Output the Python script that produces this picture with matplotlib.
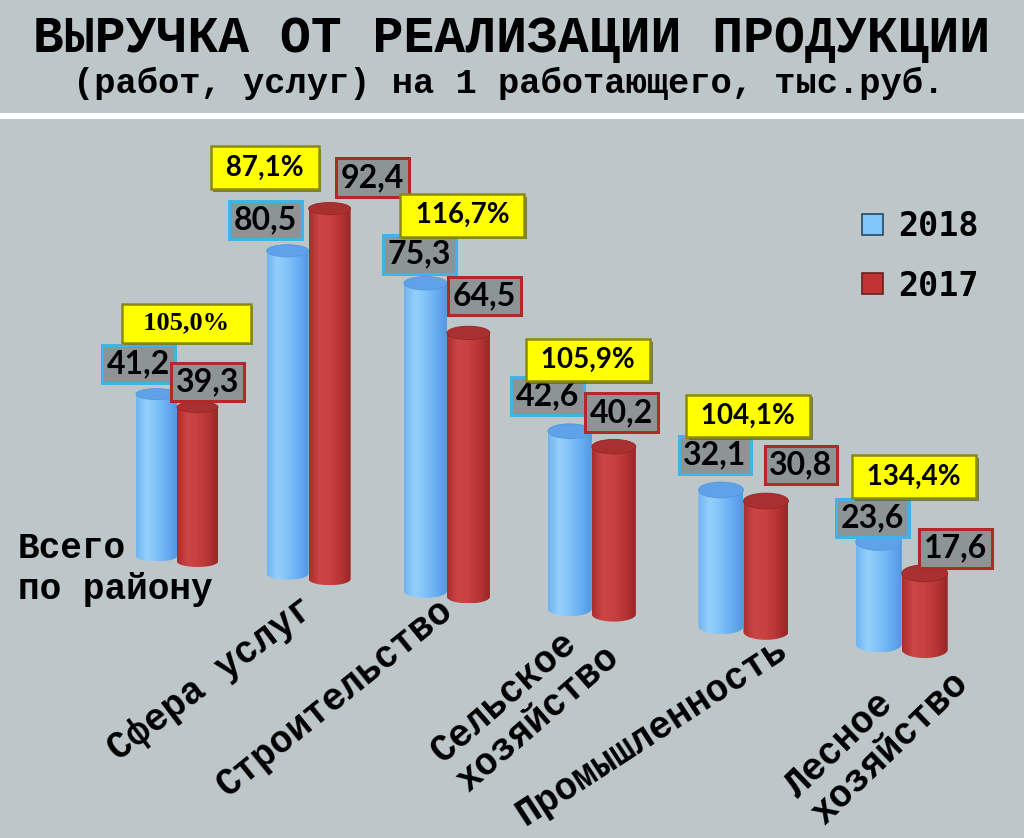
import numpy as np
import matplotlib.pyplot as plt
import matplotlib.patheffects as pe
from matplotlib.patches import Ellipse, PathPatch, Patch, Rectangle
from matplotlib.path import Path
from matplotlib.colors import LinearSegmentedColormap

# data
categories = ["Всего\nпо району", "Сфера услуг", "Строительство",
              "Сельское\nхозяйство", "Промышленность", "Лесное\nхозяйство"]
vals_2018 = [41.2, 80.5, 75.3, 42.6, 32.1, 23.6]
vals_2017 = [39.3, 92.4, 64.5, 40.2, 30.8, 17.6]
growth = ["105,0%", "87,1%", "116,7%", "105,9%", "104,1%", "134,4%"]
years = ["2018", "2017"]

BG = "#bdc7ca"
BLUE = ["#70b4f0", "#94d0fc", "#80c2f8", "#68aef2", "#5398e0"]
RED = ["#aa2e2e", "#cc4646", "#c84040", "#b83535", "#982626"]
BLUE_TOP = "#60a2e8"
RED_TOP = "#a83030"

SC = 4.1   # pixels per value unit on the y axis
n = len(categories)
i = np.arange(n)
# perspective layout of the pairs
xc = 177 + 128.3 * i + 3.33 * i ** 2
base = -17.6 * i / SC
persp = (3.93 + 0.08 * i) / SC
bw = 41 + 1.0 * i
eh = (11 + 1.2 * i) / SC

# label offsets (pixels) from the top of each cylinder
off_2018 = [(-18, 30), (-22, 31), (-6, 29), (-22, 35), (-6, 35), (-6, 24)]
off_2017 = [(10, 25), (43, 31), (16, 37), (8, 34), (35, 36), (31, 25)]
off_pct = [(30, 71), (-23, 83), (37, 68), (18, 71), (27, 74), (35, 65)]
off_cat = [(-98, -106), (-112, -107), (-67, -96), (-92, -106), (-25, -91)]
rot_cat = [37, 39, 41, 33, 44]

fig = plt.figure(figsize=(10.24, 8.38), dpi=100)
fig.patch.set_facecolor(BG)
ax = fig.add_axes([0, 0, 1, 1])
ax.set_facecolor(BG)


def cylinder(xcen, y0, h, w, e, colors, top, z):
    x0, x1 = xcen - w / 2, xcen + w / 2
    y1 = y0 + h
    t = np.linspace(np.pi, 2 * np.pi, 50)
    arc = np.column_stack([xcen + w / 2 * np.cos(t), y0 + e / 2 * np.sin(t)])
    verts = np.vstack([[[x0, y1], [x0, y0]], arc, [[x1, y0], [x1, y1], [x0, y1]]])
    clip = PathPatch(Path(verts, closed=True), transform=ax.transData,
                     fc="none", ec="none")
    cm = LinearSegmentedColormap.from_list("c", colors)
    im = ax.imshow(np.linspace(0, 1, 64)[None, :], cmap=cm, aspect="auto",
                   extent=(x0, x1, y0 - e / 2, y1), interpolation="bicubic",
                   zorder=z)
    im.set_clip_path(clip)
    ax.add_patch(Ellipse((xcen, y1), w, e, fc=top, ec=colors[-1], lw=0.6,
                         zorder=z + 0.1))


val_font = ["Lato", "DejaVu Sans"]
for k in range(n):
    xb = xc[k] - bw[k] / 2
    xr = xc[k] + bw[k] / 2
    yb = base[k]
    yr = base[k] - 5.5 / SC
    hb = vals_2018[k] * persp[k]
    hr = vals_2017[k] * persp[k]
    cylinder(xb, yb, hb, bw[k], eh[k], BLUE, BLUE_TOP, 2)
    cylinder(xr, yr, hr, bw[k], eh[k], RED, RED_TOP, 3)

    ax.annotate(f"{vals_2018[k]:.1f}".replace(".", ","), xy=(xb, yb + hb),
                xytext=off_2018[k], textcoords="offset pixels",
                ha="center", va="center", fontsize=23, weight="bold",
                family=val_font, zorder=10,
                bbox=dict(boxstyle="square,pad=0.15", fc="#8c9496",
                          ec="#3fb4e8", lw=2.2))
    ax.annotate(f"{vals_2017[k]:.1f}".replace(".", ","), xy=(xr, yr + hr),
                xytext=off_2017[k], textcoords="offset pixels",
                ha="center", va="center", fontsize=23, weight="bold",
                family=val_font, zorder=10,
                bbox=dict(boxstyle="square,pad=0.15", fc="#8c9496",
                          ec="#b02a2a", lw=2.2))
    if k == 0:
        fam, fs, txt = ["Liberation Serif"], 19, "  " + growth[k] + "  "
    else:
        fam, fs, txt = val_font, 20, " " + growth[k] + " "
    t = ax.annotate(txt, xy=(xb, yb + hb),
                    xytext=off_pct[k], textcoords="offset pixels",
                    ha="center", va="center", fontsize=fs,
                    weight="bold", family=fam, zorder=11,
                    bbox=dict(boxstyle="square,pad=0.3", fc="#ffff00",
                              ec="#8a8a10", lw=1.8))
    t.get_bbox_patch().set_path_effects(
        [pe.SimplePatchShadow(offset=(2, -2), shadow_rgbFace="#5a5a20",
                              alpha=0.7), pe.Normal()])

# category labels
ax.annotate(categories[0], xy=(xc[0], base[0]), xytext=(-159, -13),
            textcoords="offset pixels", ha="left", va="center",
            fontsize=26, weight="bold", family="Liberation Mono",
            linespacing=1.25)
for k in range(1, n):
    ax.annotate(categories[k], xy=(xc[k], base[k]), xytext=off_cat[k - 1],
                textcoords="offset pixels", ha="center", va="center",
                rotation=rot_cat[k - 1], rotation_mode="anchor",
                fontsize=27, weight="bold", family="Liberation Mono",
                multialignment="left", linespacing=1.1)

# legend
handles = [Patch(fc="#80c6fa", ec="#2a4a60", lw=1.2),
           Patch(fc="#c23434", ec="#6a2020", lw=1.2)]
leg = ax.legend(handles, years, loc="upper left",
                bbox_to_anchor=(862 / 1024, 1 - 210 / 838),
                bbox_transform=fig.transFigure, frameon=False,
                prop=dict(family="DejaVu Sans Mono", weight="bold", size=24),
                handlelength=0.62, handleheight=0.6, handletextpad=0.45,
                labelspacing=0.8, borderpad=0, borderaxespad=0)

# title
fig.text(0.5, 1 - 39 / 838, "ВЫРУЧКА ОТ РЕАЛИЗАЦИИ ПРОДУКЦИИ", ha="center",
         va="center", fontsize=37, weight="bold", family="Liberation Mono")
fig.text(0.497, 1 - 83 / 838, "(работ, услуг) на 1 работающего, тыс.руб.",
         ha="center", va="center", fontsize=25.5, weight="bold",
         family="Liberation Mono")
fig.add_artist(Rectangle((0, 1 - 119 / 838), 1, 6 / 838,
                         transform=fig.transFigure, fc="white", ec="none"))

ax.set_xlim(0, 1024)
ax.set_ylim((556 - 838) / SC, 556 / SC)
ax.axis("off")

fig.savefig("out.png", dpi=100, facecolor=BG)
